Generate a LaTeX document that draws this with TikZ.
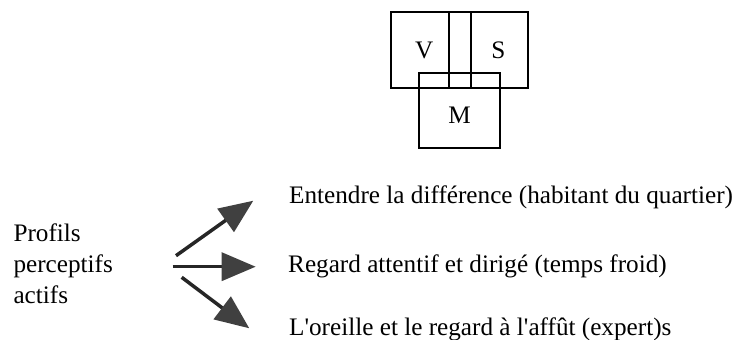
\documentclass[tikz,border=0pt]{standalone}
\usepackage{fontspec}
\setmainfont{Liberation Serif}
\usetikzlibrary{arrows.meta}

\begin{document}
\begin{tikzpicture}[x=1pt,y=-1pt,
    txt/.style={font=\fontsize{25.2}{30.7}\selectfont, inner sep=0pt},
    boite/.style={draw, line width=2.2pt},
    fleche/.style={line width=3.5pt, draw=black!85,
        -{Triangle[length=34pt,width=28pt,color=black!75]}}]
    \useasboundingbox (0,0) rectangle (742,340);
    % schema V S M
    \coordinate (h1) at (449,11.7);
    \coordinate (h2) at (471,11.7);
    \coordinate (b1) at (449,87.7);
    \coordinate (b2) at (471,87.7);
    \draw[boite] (390.7,11.7) rectangle (528.3,87.7);
    \draw[boite] (419.3,73.3) rectangle (500,147.7);
    \draw[boite] (h1) -- (b1);
    \draw[boite] (h2) -- (b2);
    \node[txt] (v) at (424.3,50) {V};
    \node[txt] (s) at (498.3,50) {S};
    \node[txt] (m) at (459.5,115) {M};
    % profils
    \node[txt, align=left, anchor=base west] (profils) at (13.3,303)
        {Profils\\perceptifs\\actifs};
    \node[txt, anchor=base west] (t1) at (289,203)
        {Entendre la différence (habitant du quartier)};
    \node[txt, anchor=base west] (t2) at (288,272)
        {Regard attentif et dirigé (temps froid)};
    \node[txt, anchor=base west] (t3) at (289,335)
        {L\textquotesingle oreille et le regard à l\textquotesingle affût (expert)s};
    \coordinate (a1) at (176,255.7);
    \coordinate (a2) at (172.7,266.7);
    \coordinate (a3) at (181.7,277.3);
    \coordinate (e1) at (253.3,200.7);
    \coordinate (e2) at (255.7,266.7);
    \coordinate (e3) at (249.3,328.3);
    \foreach \i in {1,2,3}
        \draw[fleche] (a\i) -- (e\i);
\end{tikzpicture}
\end{document}
